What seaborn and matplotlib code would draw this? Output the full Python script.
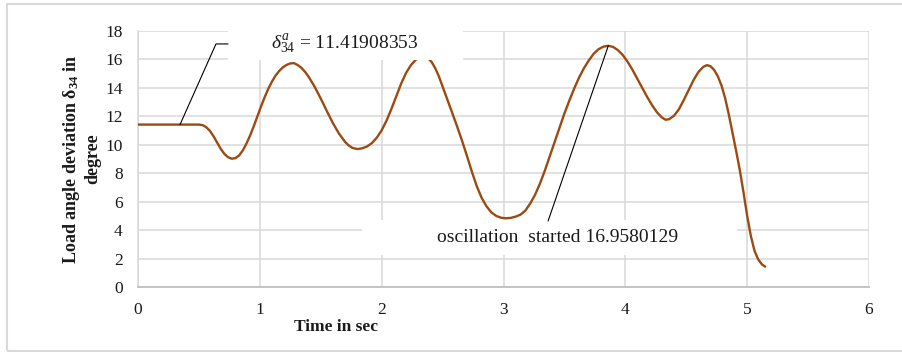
import matplotlib
matplotlib.use("Agg")
import matplotlib.pyplot as plt
import pandas as pd
import seaborn as sns
from matplotlib.patches import Rectangle

# ---- data ----
time_s = [0.0, 0.1, 0.2, 0.3, 0.4, 0.5, 0.53, 0.56, 0.59, 0.62,
          0.65, 0.68, 0.71, 0.74, 0.77, 0.8, 0.83, 0.86, 0.89, 0.92,
          0.95, 0.98, 1.01, 1.04, 1.07, 1.1, 1.13, 1.16, 1.19, 1.22,
          1.25, 1.28, 1.31, 1.34, 1.37, 1.4, 1.45, 1.5, 1.55, 1.6,
          1.65, 1.7, 1.73, 1.76, 1.8, 1.84, 1.88, 1.92, 1.96, 2.0,
          2.04, 2.08, 2.12, 2.16, 2.2, 2.24, 2.28, 2.32, 2.35, 2.38,
          2.41, 2.44, 2.47, 2.5, 2.54, 2.58, 2.62, 2.66, 2.7, 2.74,
          2.78, 2.82, 2.86, 2.9, 2.94, 2.98, 3.02, 3.06, 3.1, 3.14,
          3.18, 3.22, 3.26, 3.3, 3.34, 3.38, 3.42, 3.46, 3.5, 3.54,
          3.58, 3.62, 3.66, 3.7, 3.74, 3.78, 3.82, 3.86, 3.9, 3.94,
          3.98, 4.02, 4.06, 4.1, 4.14, 4.18, 4.22, 4.26, 4.3, 4.33,
          4.36, 4.4, 4.44, 4.48, 4.52, 4.56, 4.6, 4.64, 4.67, 4.7,
          4.73, 4.76, 4.79, 4.82, 4.85, 4.88, 4.91, 4.94, 4.97, 5.0,
          5.03, 5.06, 5.09, 5.12, 5.148]
delta_deg = [11.42, 11.42, 11.42, 11.42, 11.42, 11.42, 11.38, 11.24, 10.98, 10.6,
             10.15, 9.7, 9.35, 9.12, 9.02, 9.06, 9.25, 9.6, 10.08, 10.65,
             11.3, 12.0, 12.7, 13.35, 13.95, 14.45, 14.88, 15.2, 15.45, 15.62,
             15.72, 15.74, 15.61, 15.42, 15.14, 14.79, 14.08, 13.25, 12.37, 11.52,
             10.78, 10.2, 9.95, 9.78, 9.7, 9.75, 9.88, 10.12, 10.5, 11.02,
             11.7, 12.52, 13.42, 14.3, 15.05, 15.6, 15.98, 16.2, 16.23, 16.1,
             15.82, 15.38, 14.8, 14.1, 13.15, 12.22, 11.27, 10.28, 9.22, 8.12,
             7.1, 6.28, 5.68, 5.25, 5.0, 4.87, 4.83, 4.86, 4.95, 5.09,
             5.38, 5.88, 6.5, 7.29, 8.2, 9.2, 10.22, 11.22, 12.2, 13.1,
             13.95, 14.72, 15.38, 15.93, 16.4, 16.72, 16.9, 16.96, 16.88, 16.65,
             16.3, 15.82, 15.25, 14.62, 13.98, 13.35, 12.78, 12.28, 11.92, 11.76,
             11.8, 12.05, 12.5, 13.15, 13.85, 14.55, 15.12, 15.48, 15.6, 15.52,
             15.25, 14.8, 14.15, 13.25, 12.1, 10.82, 9.55, 8.2, 6.65, 5.0,
             3.6, 2.55, 1.95, 1.6, 1.43]
x_ticks = [0, 1, 2, 3, 4, 5, 6]
y_ticks = [0, 2, 4, 6, 8, 10, 12, 14, 16, 18]
initial_delta = 11.41908353
osc_time = 3.86
osc_peak = 16.9580129

# ---- style ----
sns.set_theme(style="white")
plt.rcParams["font.family"] = ["Liberation Serif", "DejaVu Serif"]
plt.rcParams["mathtext.fontset"] = "custom"
plt.rcParams["mathtext.rm"] = "Liberation Serif"
plt.rcParams["mathtext.it"] = "Liberation Serif:italic"
plt.rcParams["mathtext.bf"] = "Liberation Serif:bold"

W, H = 902, 352
fig = plt.figure(figsize=(W / 100, H / 100), dpi=100)
ax = fig.add_axes([138 / W, 1 - 287 / H, 731 / W, 256 / H])

df = pd.DataFrame({"time": time_s, "delta": delta_deg})
sns.lineplot(data=df, x="time", y="delta", ax=ax, color="#9C4A12",
             linewidth=1.7, zorder=3)
for ln in ax.get_lines():
    ln.set_solid_joinstyle("round")
    ln.set_solid_capstyle("round")

ax.set_xlim(0, 6)
ax.set_ylim(0, 18)
ax.set_xticks(x_ticks)
ax.set_yticks(y_ticks)
ax.tick_params(length=0, labelsize=12.5, labelcolor="#1a1a1a")
ax.tick_params(axis="y", pad=11)
ax.tick_params(axis="x", pad=11)
ax.grid(True, color="#d9d9d9", linewidth=1.1)
ax.set_axisbelow(True)
for s in ["top", "right"]:
    ax.spines[s].set_visible(False)
ax.spines["left"].set_color("#d9d9d9")
ax.spines["left"].set_linewidth(1.1)
ax.spines["bottom"].set_color("#bfbfbf")
ax.spines["bottom"].set_linewidth(1.3)
ax.set_xlabel("")
ax.set_ylabel("")

# axis titles
fig.text(336 / W, 1 - 327 / H, "Time in sec", ha="center", va="center",
         fontsize=12.5, fontweight="bold", color="#1a1a1a")
fig.text(81 / W, 1 - 159 / H,
         "Load angle deviation δ$_{\\mathbf{34}}$ in\ndegree",
         rotation=90, ha="center", va="center", multialignment="center",
         fontsize=13, fontweight="bold", color="#1a1a1a", linespacing=1.2)

# data-label boxes (white backgrounds that hide grid lines)
ax.add_patch(Rectangle((0.739, 15.96), 1.929, 2.26, facecolor="white",
                       edgecolor="none", zorder=4, clip_on=False))
ax.add_patch(Rectangle((1.839, 2.25), 3.079, 2.46, facecolor="white",
                       edgecolor="none", zorder=4, clip_on=False))

# top annotation
ax.text(1.70, 17.09, "$\\mathit{\\delta}^{a}_{\\mathit{34}}$ = 11.41908353",
        ha="center", va="center", fontsize=14, color="#1a1a1a", zorder=5)
ax.plot([0.345, 0.64, 0.739], [initial_delta, 17.09, 17.09], color="black",
        linewidth=0.8, zorder=5, clip_on=False)

# bottom annotation
ax.text(3.44, 3.45, "oscillation  started 16.9580129", ha="center", va="center",
        fontsize=14, color="#1a1a1a", zorder=5)
ax.plot([osc_time, 3.366], [osc_peak, 4.64], color="black", linewidth=0.8, zorder=5)

# chart border
fig.add_artist(Rectangle((6.5 / W, 1 - 351 / H), 920 / W, 347.5 / H,
                         transform=fig.transFigure, fill=False,
                         edgecolor="#d9d9d9", linewidth=1.5))

fig.savefig("out.png", dpi=100)
